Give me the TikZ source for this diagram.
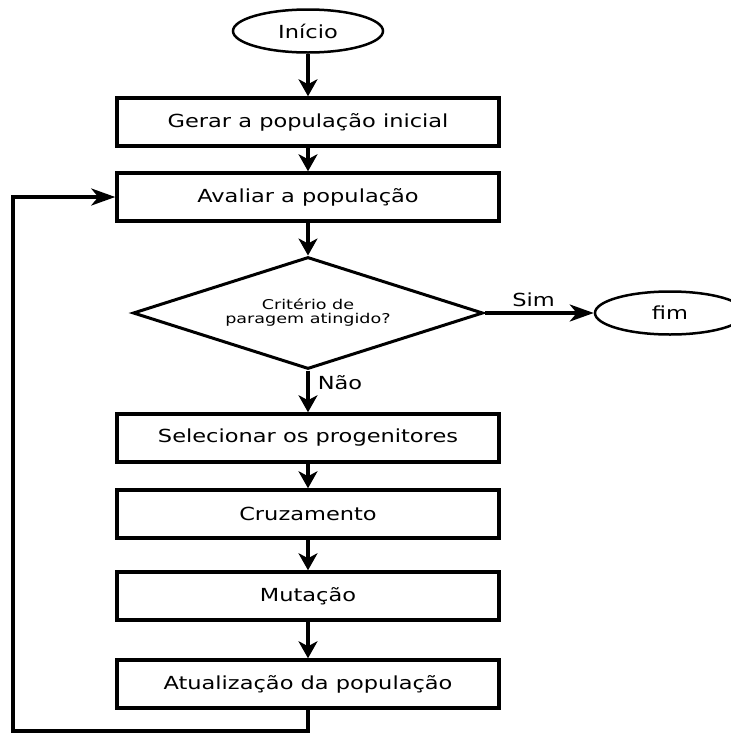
\documentclass[tikz,border=0pt]{standalone}
\usepackage{fontspec}
\newfontfamily\caixafont[FakeStretch=1.25]{DejaVu Sans}
\newfontfamily\losangofont[FakeStretch=1.3]{DejaVu Sans}
\usetikzlibrary{arrows.meta,shapes.geometric}

\begin{document}
\begin{tikzpicture}[x=1pt,y=-1pt,
    caixa/.style={draw,line width=3.5pt,rectangle,minimum width=382pt,minimum height=48pt,inner sep=0pt,
      font=\caixafont\fontsize{18}{20}\selectfont},
    oval/.style={draw,line width=2.5pt,ellipse,minimum width=150pt,minimum height=43pt,inner sep=0pt,
      font=\caixafont\fontsize{18}{20}\selectfont},
    decisao/.style={draw,line width=3pt,diamond,aspect=3.125,minimum width=350pt,minimum height=112pt,inner sep=0pt,
      align=center,font=\losangofont\fontsize{13.5}{14}\selectfont},
    seta/.style={line width=3.5pt,-{Stealth[length=17pt,width=19pt,inset=5pt]}},
    setah/.style={line width=3.5pt,-{Stealth[length=24pt,width=17pt,inset=7pt]}},
    rotulo/.style={font=\caixafont\fontsize{18}{20}\selectfont,inner sep=0pt}]
  \useasboundingbox (0,0) rectangle (731,734);

  \node[oval] (inicio) at (308,31) {Início};
  \node[caixa] (gerar) at (308,122) {Gerar a população inicial};
  \node[caixa] (avaliar) at (308,197) {Avaliar a população};
  \node[decisao] (criterio) at (308,313) {Critério de\\paragem atingido?};
  \node[oval] (fim) at (670,313) {fim};
  \node[caixa] (selecionar) at (308,438) {Selecionar os progenitores};
  \node[caixa] (cruzamento) at (308,514) {Cruzamento};
  \node[caixa] (mutacao) at (308,596) {Mutação};
  \node[caixa] (atualizar) at (308,684) {Atualização da população};

  \draw[seta] (inicio) -- (gerar);
  \draw[seta] (gerar) -- (avaliar);
  \draw[seta] (avaliar) -- (criterio);
  \draw[setah] (criterio) -- node[rotulo,above=5pt,pos=0.45] {Sim} (fim);
  \draw[seta] (criterio) -- node[rotulo,right=8pt,pos=0.28] {Não} (selecionar);
  \draw[seta] (selecionar) -- (cruzamento);
  \draw[seta] (cruzamento) -- (mutacao);
  \draw[seta] (mutacao) -- (atualizar);

  % volta para a avaliacao
  \coordinate (canto) at (13,731);
  \draw[setah,line join=miter] (atualizar.south) |- (canto) |- (avaliar.west);
\end{tikzpicture}
\end{document}
